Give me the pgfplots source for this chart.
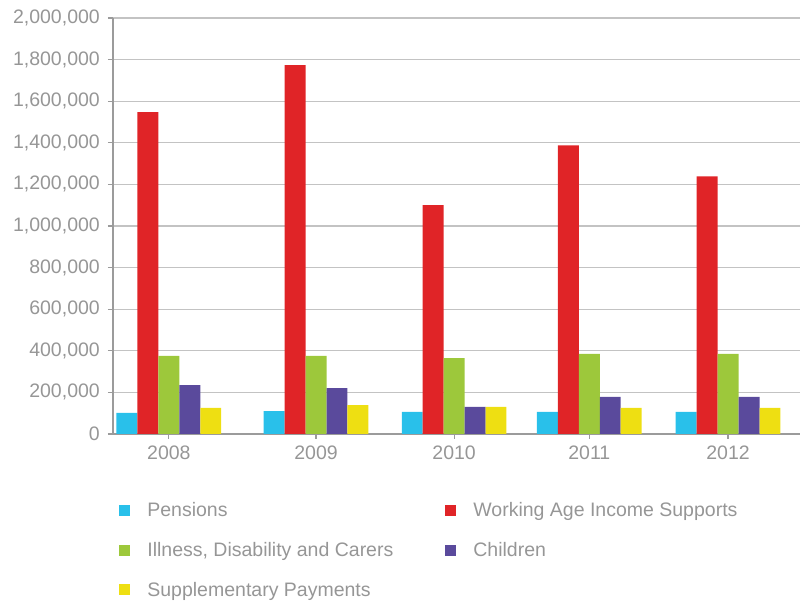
\documentclass[border=0pt]{standalone}
\usepackage{pgfplots}
\pgfplotsset{compat=1.18}
\usepackage{fontspec}
\setmainfont{Liberation Sans}
\definecolor{cPen}{RGB}{41,192,234}
\definecolor{cWork}{RGB}{224,36,39}
\definecolor{cIll}{RGB}{157,200,59}
\definecolor{cChild}{RGB}{90,74,156}
\definecolor{cSupp}{RGB}{238,223,18}
\definecolor{txtgray}{RGB}{150,150,150}
\definecolor{axgray}{RGB}{155,155,155}
\definecolor{gridgray}{RGB}{195,195,195}
\begin{document}
\begin{tikzpicture}
\useasboundingbox (0,0) rectangle (800bp,606bp);
\begin{axis}[
  at={(113bp,172bp)}, anchor=south west,
  scale only axis, width=687bp, height=416bp,
  ybar=0pt, bar width=0.15,
  xmin=-0.4, xmax=4.52,
  ymin=0, ymax=2000000,
  xtick={0,1.054,2.043,3.011,4.005},
  xticklabels={2008,2009,2010,2011,2012},
  ytick={0,200000,400000,600000,800000,1000000,1200000,1400000,1600000,1800000,2000000},
  scaled y ticks=false,
  /pgf/number format/fixed,
  /pgf/number format/1000 sep={,},
  /pgf/number format/assume math mode=true,
  axis x line*=bottom, axis y line*=left,
  axis line style={-, axgray, line width=1.5bp},
  ymajorgrids, grid style={gridgray, line width=1.2bp},
  tick align=outside, major tick length=5bp,
  tick style={axgray, line width=1.2bp},
  xtick pos=bottom, ytick pos=left,
  ticklabel style={font=\fontsize{19.5bp}{22bp}\selectfont, text=txtgray},
  yticklabel style={inner sep=0pt, xshift=-8bp},
  xticklabel style={inner sep=0pt, yshift=-7bp},
  legend columns=2,
  legend cell align=left,
  legend style={at={(axis description cs:0.009,-0.16)}, anchor=north west,
    draw=none, fill=none, inner sep=0pt,
    font=\fontsize{19.5bp}{22bp}\selectfont, text=txtgray,
    row sep=20bp,
    /tikz/every odd column/.append style={column sep=15bp},
    /tikz/every even column/.append style={column sep=50bp}},
  legend image code/.code={\fill[#1] (0bp,-5.5bp) rectangle (11bp,5.5bp);},
  every axis plot/.append style={draw=none},
]
\addplot[fill=cPen] coordinates {(0,101000) (1.054,110000) (2.043,106000) (3.011,106000) (4.005,106000)};
\addplot[fill=cWork] coordinates {(0,1547000) (1.054,1773000) (2.043,1100000) (3.011,1388000) (4.005,1239000)};
\addplot[fill=cIll] coordinates {(0,375000) (1.054,375000) (2.043,365000) (3.011,385000) (4.005,385000)};
\addplot[fill=cChild] coordinates {(0,235000) (1.054,221000) (2.043,130000) (3.011,178000) (4.005,178000)};
\addplot[fill=cSupp] coordinates {(0,125000) (1.054,139000) (2.043,130000) (3.011,125000) (4.005,125000)};
\legend{Pensions, Working Age Income Supports, {Illness, Disability and Carers}, Children, Supplementary Payments}
\end{axis}
\end{tikzpicture}
\end{document}
